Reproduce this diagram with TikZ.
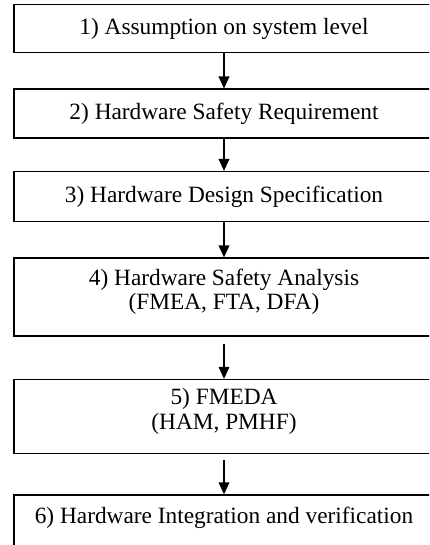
\documentclass[tikz,border=0pt]{standalone}
\usepackage{fontspec}
\setmainfont{Liberation Serif}
\usetikzlibrary{positioning,arrows.meta}

\begin{document}
\begin{tikzpicture}[x=0.75pt,y=-0.75pt]
          \tikzset{StepBox/.style={draw, line width=1.1pt, minimum width=315pt, inner sep=0pt, align=center, font=\fontsize{17.5}{18.5}\selectfont}}
          \tikzset{StepArrow/.style={-{Triangle[width=8pt,length=9pt]}, line width=1.1pt, xshift=-2.25pt}}

          \useasboundingbox (0,0) rectangle (429,545);
          \clip (0,0) rectangle (429,545);

          \node[StepBox, minimum height=36pt, anchor=north] (S1) at (224,4) {1) Assumption on system level};
          \node[StepBox, minimum height=36.75pt, below=26.25pt of S1] (S2) {2) Hardware Safety Requirement};
          \node[StepBox, minimum height=37.5pt, below=24pt of S2] (S3) {3) Hardware Design Specification};
          \node[StepBox, minimum height=58.5pt, below=26.25pt of S3] (S4) {4) Hardware Safety Analysis\\(FMEA, FTA, DFA)\\[-6.5pt]};
          \node[StepBox, minimum height=55.5pt, below=31.5pt of S4] (S5) {5) FMEDA\\(HAM, PMHF)\\[-6.5pt]};
          \node[StepBox, text height=21pt, text depth=60pt, below=30pt of S5] (S6) {6) Hardware Integration and verification};

          \draw[StepArrow] (S1.south) -- (S2.north);
          \draw[StepArrow] (S2.south) -- (S3.north);
          \draw[StepArrow] (S3.south) -- (S4.north);
          \draw[StepArrow, shorten <=5pt] (S4.south) -- (S5.north);
          \draw[StepArrow, shorten <=4.5pt] (S5.south) -- (S6.north);
\end{tikzpicture}
\end{document}
